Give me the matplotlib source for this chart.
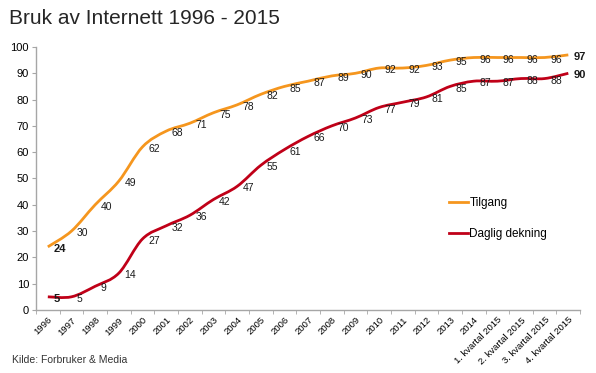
import matplotlib.pyplot as plt
from matplotlib.path import Path
from matplotlib.patches import PathPatch
import numpy as np

plt.rcParams['font.family'] = ['Liberation Sans', 'DejaVu Sans']

periods = ['1996', '1997', '1998', '1999', '2000', '2001', '2002', '2003', '2004',
           '2005', '2006', '2007', '2008', '2009', '2010', '2011', '2012', '2013',
           '2014', '1. kvartal 2015', '2. kvartal 2015', '3. kvartal 2015',
           '4. kvartal 2015']
tilgang = [24, 30, 40, 49, 62, 68, 71, 75, 78, 82, 85, 87, 89, 90, 92, 92, 93, 95,
           96, 96, 96, 96, 97]
daglig = [5, 5, 9, 14, 27, 32, 36, 42, 47, 55, 61, 66, 70, 73, 77, 79, 81, 85,
          87, 87, 88, 88, 90]

orange = '#F5961E'
red = '#C00018'
grey = '#A6A6A6'


def smooth_path(ys):
    # Excel-style smoothed line: Catmull-Rom segments drawn as cubic Beziers
    xs = np.arange(len(ys), dtype=float)
    pts = np.column_stack([xs, np.asarray(ys, dtype=float)])
    verts = [pts[0]]
    codes = [Path.MOVETO]
    for i in range(len(pts) - 1):
        p0 = pts[max(i - 1, 0)]
        p1 = pts[i]
        p2 = pts[i + 1]
        p3 = pts[min(i + 2, len(pts) - 1)]
        verts += [p1 + (p2 - p0) / 6.0, p2 - (p3 - p1) / 6.0, p2]
        codes += [Path.CURVE4] * 3
    return Path(verts, codes)


fig = plt.figure(figsize=(5.96, 3.73), dpi=100)
ax = fig.add_axes([0.0604, 0.169, 0.913, 0.705])

for ys, col, name in [(tilgang, orange, 'Tilgang'), (daglig, red, 'Daglig dekning')]:
    ax.add_patch(PathPatch(smooth_path(ys), fill=False, edgecolor=col, lw=2,
                           capstyle='butt'))
    ax.plot([], [], color=col, lw=2, label=name)
    n = len(ys)
    for i, v in enumerate(ys):
        bold = i == 0 or i == n - 1
        ax.annotate(str(v), xy=(i, v), xytext=(4, -1.5), textcoords='offset points',
                    ha='left', va='center', fontsize=8 if bold else 7.5,
                    fontweight='bold' if bold else 'normal', color='#1a1a1a')

ax.set_xlim(-0.5, len(periods) - 0.5)
ax.set_ylim(0, 100)
ax.set_yticks(range(0, 101, 10))
ax.tick_params(axis='y', labelsize=8, length=3, color=grey, pad=2)

ax.set_xticks(range(len(periods)))
ax.set_xticklabels(periods, rotation=45, ha='right', rotation_mode='anchor',
                   fontsize=6.8)
ax.tick_params(axis='x', length=0, pad=4)
ax.set_xticks(np.arange(-0.5, len(periods), 1.0), minor=True)
ax.tick_params(axis='x', which='minor', length=3, color=grey)

for s in ['top', 'right']:
    ax.spines[s].set_visible(False)
for s in ['left', 'bottom']:
    ax.spines[s].set_color(grey)
    ax.spines[s].set_linewidth(1)

ax.legend(loc='upper left', bbox_to_anchor=(0.74, 0.47), frameon=False,
          fontsize=8.5, handlelength=1.6, handletextpad=0.1, labelspacing=1.6)

fig.text(0.015, 0.95, 'Bruk av Internett 1996 - 2015', fontsize=15,
         color='#262626', va='center')
fig.text(0.02, 0.035, 'Kilde: Forbruker & Media', fontsize=7.5, color='#333333',
         va='center')

fig.savefig('out.png', dpi=100)
